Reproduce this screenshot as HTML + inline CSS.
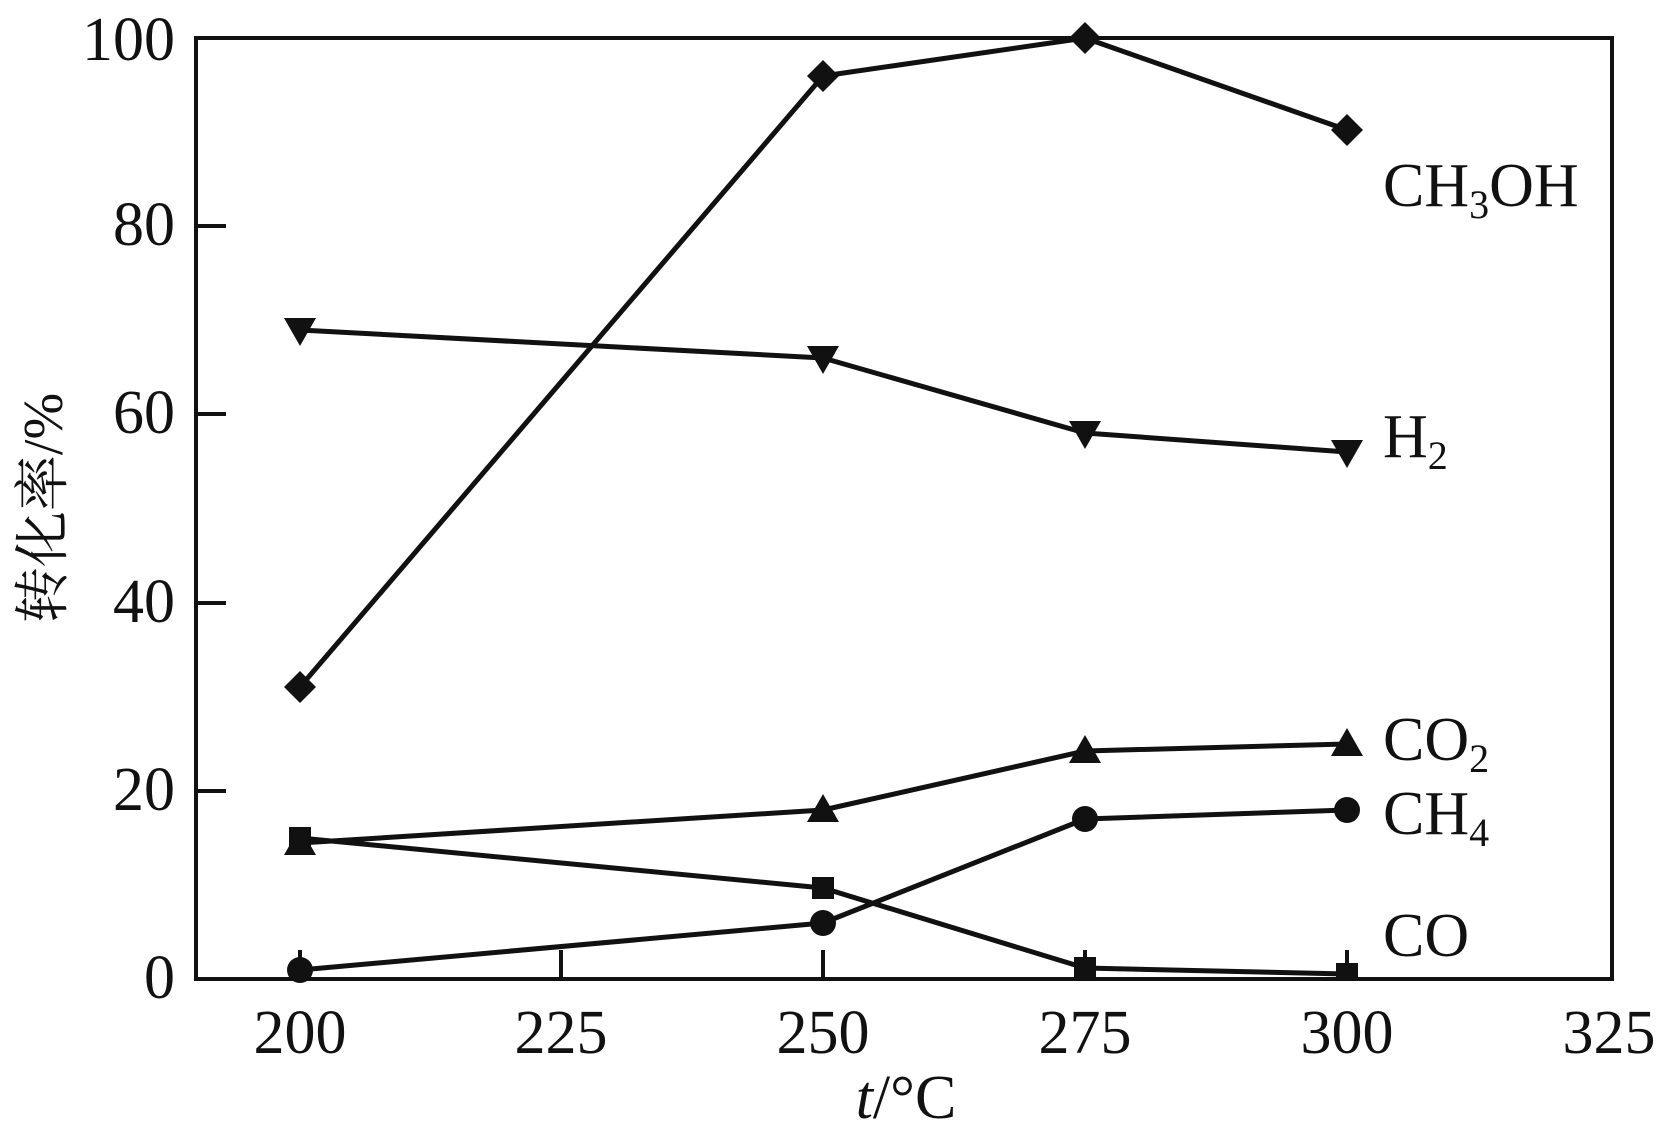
<!DOCTYPE html>
<html><head><meta charset="utf-8"><style>
html,body{margin:0;padding:0;background:#fff}
svg{display:block}
text{font-family:"Liberation Serif","Noto Serif CJK SC",serif;fill:#111}
</style></head><body>
<svg width="1670" height="1129" viewBox="0 0 1670 1129" xmlns="http://www.w3.org/2000/svg">
<g stroke="#111" stroke-width="4" fill="none">
<rect x="196" y="38" width="1416" height="941"/>
<line x1="300" y1="979" x2="300" y2="950"/>
<line x1="561" y1="979" x2="561" y2="950"/>
<line x1="823" y1="979" x2="823" y2="950"/>
<line x1="1085" y1="979" x2="1085" y2="950"/>
<line x1="1347" y1="979" x2="1347" y2="950"/>
<line x1="196" y1="791" x2="226" y2="791"/>
<line x1="196" y1="603" x2="226" y2="603"/>
<line x1="196" y1="414" x2="226" y2="414"/>
<line x1="196" y1="226" x2="226" y2="226"/>
</g>
<g font-size="62" text-anchor="end">
<text x="175" y="998">0</text>
<text x="175" y="810">20</text>
<text x="175" y="622">40</text>
<text x="175" y="433">60</text>
<text x="175" y="245">80</text>
<text x="175" y="60">100</text>
</g>
<g font-size="62" text-anchor="middle">
<text x="300" y="1053">200</text>
<text x="561" y="1053">225</text>
<text x="823" y="1053">250</text>
<text x="1085" y="1053">275</text>
<text x="1347" y="1053">300</text>
<text x="1609" y="1053">325</text>
<text x="906" y="1118"><tspan font-style="italic">t</tspan>/°C</text>
</g>
<text font-size="56" text-anchor="middle" transform="translate(62 508) rotate(-90)">转化率/%</text>
<g stroke="#111" stroke-width="5" fill="none" stroke-linejoin="round">
<polyline points="300,687 823,76 1085,38 1347,130"/>
<polyline points="300,330 823,358 1085,433 1347,452"/>
<polyline points="300,843 823,810 1085,751 1347,744"/>
<polyline points="300,970 823,923 1085,819 1347,810"/>
<polyline points="300,838 823,888 1085,968 1347,974"/>
</g>
<g fill="#111">
<path d="M300,671 l16,16 -16,16 -16,-16z"/>
<path d="M823,60 l16,16 -16,16 -16,-16z"/>
<path d="M1085,22 l16,16 -16,16 -16,-16z"/>
<path d="M1347,114 l16,16 -16,16 -16,-16z"/>
<path d="M284,318 h32 l-16,28z"/>
<path d="M807,346 h32 l-16,28z"/>
<path d="M1069,421 h32 l-16,28z"/>
<path d="M1331,440 h32 l-16,28z"/>
<path d="M284,855 h32 l-16,-28z"/>
<path d="M807,822 h32 l-16,-28z"/>
<path d="M1069,763 h32 l-16,-28z"/>
<path d="M1331,756 h32 l-16,-28z"/>
<circle cx="300" cy="970" r="13"/>
<circle cx="823" cy="923" r="13"/>
<circle cx="1085" cy="819" r="13"/>
<circle cx="1347" cy="810" r="13"/>
<rect x="289" y="827" width="22" height="22"/>
<rect x="812" y="877" width="22" height="22"/>
<rect x="1074" y="957" width="22" height="22"/>
<rect x="1336" y="963" width="22" height="18"/>
</g>
<g font-size="62">
<text x="1383" y="206">CH<tspan font-size="40" dy="12">3</tspan><tspan dy="-12">OH</tspan></text>
<text x="1383" y="457">H<tspan font-size="40" dy="12">2</tspan></text>
<text x="1383" y="760">CO<tspan font-size="40" dy="12">2</tspan></text>
<text x="1383" y="834">CH<tspan font-size="40" dy="12">4</tspan></text>
<text x="1383" y="956">CO</text>
</g>
</svg>
</body></html>
